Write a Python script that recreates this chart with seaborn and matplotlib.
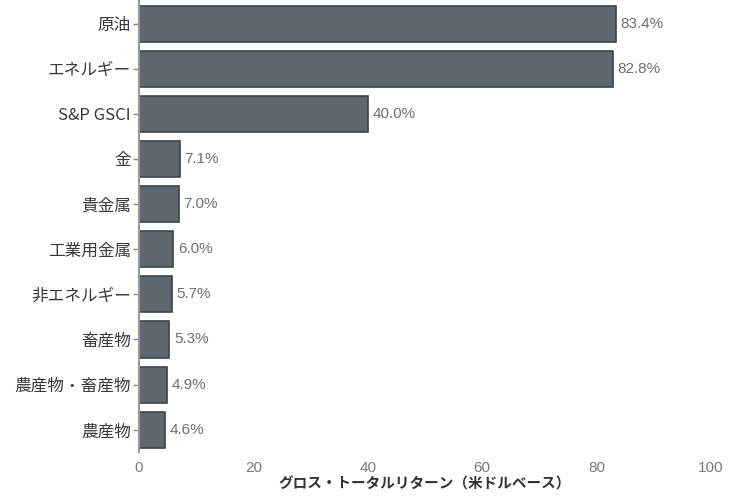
import matplotlib
matplotlib.use("Agg")
import matplotlib.pyplot as plt
import seaborn as sns
import pandas as pd

categories = ["原油", "エネルギー", "S&P GSCI", "金", "貴金属", "工業用金属",
              "非エネルギー", "畜産物", "農産物・畜産物", "農産物"]
values = [83.4, 82.8, 40.0, 7.1, 7.0, 6.0, 5.7, 5.3, 4.9, 4.6]
xticks = [0, 20, 40, 60, 80, 100]
xlabel = "グロス・トータルリターン（米ドルベース）"

sns.set_theme(style="white")
plt.rcParams['font.family'] = ['Noto Sans CJK JP', 'DejaVu Sans']

df = pd.DataFrame({"cat": categories, "val": values})

fig = plt.figure(figsize=(7.36, 4.97), dpi=100)
ax = fig.add_axes([0.189, 0.09, 0.777, 0.908])
sns.barplot(data=df, y="cat", x="val", color="#5e676e", saturation=1,
            edgecolor="#3d4449", linewidth=1.2, width=0.8, ax=ax, orient="h")

for i, v in enumerate(values):
    ax.text(v + 0.8, i, f"{v:.1f}%", va="center", ha="left",
            fontsize=11, color="#707070", family="Liberation Sans")

ax.set_xlim(0, 100)
ax.set_xticks(xticks)
ax.set_xticklabels([str(t) for t in xticks], fontsize=11, color="#7a7a7a",
                   family="Liberation Sans")
ax.set_ylabel("")
ax.set_xlabel(xlabel, fontsize=10.5, fontweight="bold", color="#333333", labelpad=1)
ax.tick_params(axis="y", labelsize=12, labelcolor="#3a3a3a", length=4,
               width=1, color="#888888", left=True, pad=2)
ax.tick_params(axis="x", length=0, pad=6)
for s in ["top", "right", "bottom"]:
    ax.spines[s].set_visible(False)
ax.spines["left"].set_color("#999999")
ax.spines["left"].set_linewidth(1.5)

fig.savefig("out.png", dpi=100)
